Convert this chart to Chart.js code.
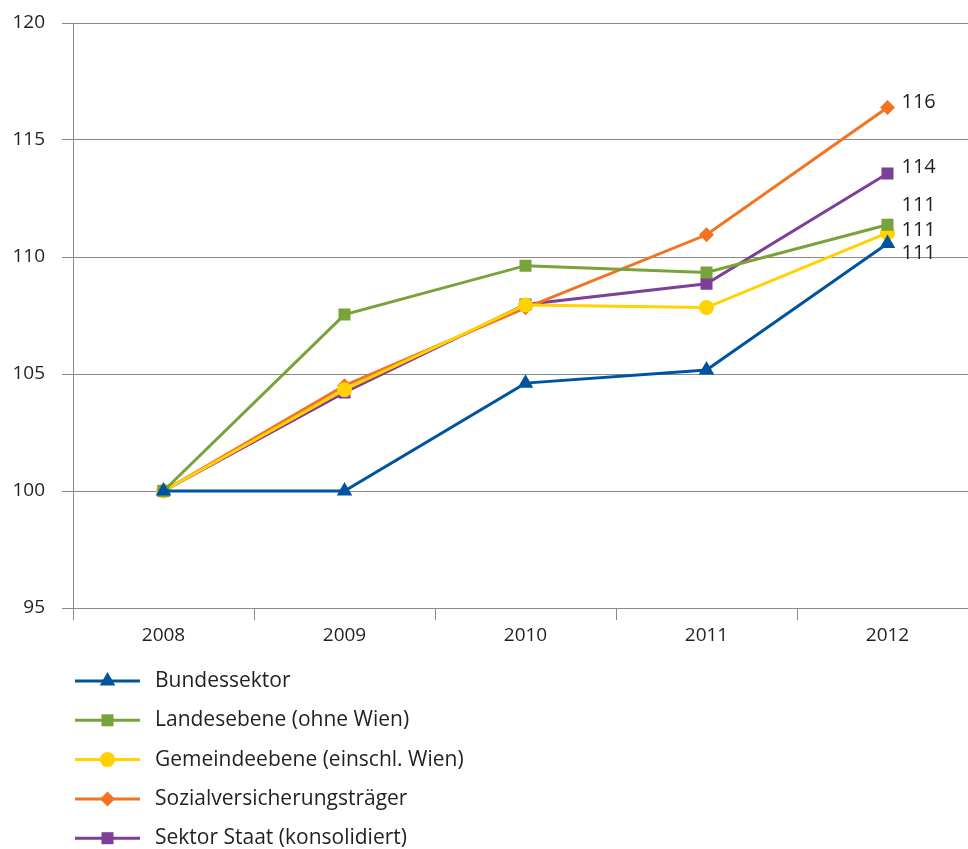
<!DOCTYPE html>
<html lang="de">
<head>
    <meta charset="UTF-8">
    <title>Sektoren 2008-2012</title>
    <script src="https://cdn.jsdelivr.net/npm/chart.js"></script>
    <style>
        html, body { margin: 0; padding: 0; background: #fff; overflow: hidden; }
        #myChart { display: block; }
    </style>
</head>
<body>
    <canvas id="myChart" width="978" height="849"></canvas>

<script>
// Daten (Index 2008 = 100)
const jahre = ['2008', '2009', '2010', '2011', '2012'];
const yTicks = [95, 100, 105, 110, 115, 120];

const bundessektor  = [100, 100, 104.61, 105.17, 110.58];
const landesebene   = [100, 107.54, 109.63, 109.34, 111.38];
const gemeindeebene = [100, 104.33, 107.95, 107.84, 111.03];
const sozialvers    = [100, 104.5, 107.83, 110.95, 116.39];
const sektorStaat   = [100, 104.21, 107.97, 108.86, 113.57];

const namen = ['Bundessektor', 'Landesebene (ohne Wien)', 'Gemeindeebene (einschl. Wien)',
               'Sozialversicherungsträger', 'Sektor Staat (konsolidiert)'];
const farben = ['#00539f', '#77a33a', '#ffd200', '#f47321', '#7d3f98'];
const symbole = ['triangle', 'rect', 'circle', 'rectRot', 'rect'];
const radien = [9, 8.5, 7.5, 7.5, 8.5];
// vertikale Verschiebung der Endwert-Beschriftung
const labelDy = [10, -19, -3, -5, -6];

const FONT = '"Open Sans", "DejaVu Sans", sans-serif';
const TEXT = '#231f20';
const GRID = '#8a8a8a';

const werte = [bundessektor, landesebene, gemeindeebene, sozialvers, sektorStaat];

const datasets = werte.map((w, i) => ({
    label: namen[i],
    data: w,
    borderColor: farben[i],
    backgroundColor: farben[i],
    borderWidth: 3,
    pointStyle: symbole[i],
    pointRadius: radien[i],
    pointBorderWidth: 0,
    tension: 0
}));

// Endwerte rechts neben dem letzten Punkt
const endLabels = {
    id: 'endLabels',
    afterDatasetsDraw(chart) {
        const ctx = chart.ctx;
        ctx.save();
        ctx.font = '20px ' + FONT;
        ctx.fillStyle = TEXT;
        ctx.textAlign = 'left';
        ctx.textBaseline = 'middle';
        chart.data.datasets.forEach((ds, i) => {
            const meta = chart.getDatasetMeta(i);
            const p = meta.data[meta.data.length - 1];
            const v = ds.data[ds.data.length - 1];
            ctx.fillText(Math.round(v).toString(), p.x + 14, p.y + labelDy[i]);
        });
        ctx.restore();
    }
};

// Legende untereinander, unten links
const legendeListe = {
    id: 'legendeListe',
    afterDraw(chart) {
        const ctx = chart.ctx;
        ctx.save();
        chart.data.datasets.forEach((ds, i) => {
            const y = 681 + i * 39.3;
            ctx.strokeStyle = ds.borderColor;
            ctx.lineWidth = 3;
            ctx.beginPath();
            ctx.moveTo(75, y);
            ctx.lineTo(140, y);
            ctx.stroke();
            ctx.fillStyle = ds.backgroundColor;
            Chart.helpers.drawPoint(ctx, {
                pointStyle: ds.pointStyle,
                radius: ds.pointRadius,
                rotation: 0,
                borderWidth: 0
            }, 107.5, y);
            ctx.fillStyle = TEXT;
            ctx.font = '21px ' + FONT;
            ctx.textAlign = 'left';
            ctx.textBaseline = 'middle';
            ctx.fillText(ds.label, 155, y);
        });
        ctx.restore();
    }
};

const ctx = document.getElementById('myChart').getContext('2d');
new Chart(ctx, {
    type: 'line',
    data: { labels: jahre, datasets: datasets },
    options: {
        responsive: false,
        animation: false,
        layout: { autoPadding: false, padding: { top: 23, right: 0, bottom: 0, left: 0 } },
        plugins: {
            legend: { display: false },
            tooltip: { enabled: false }
        },
        scales: {
            x: {
                offset: true,
                grid: {
                    offset: true,
                    drawOnChartArea: false,
                    drawTicks: true,
                    tickLength: 12,
                    color: GRID
                },
                border: { color: GRID },
                ticks: { color: TEXT, font: { family: FONT, size: 19 }, padding: 4 },
                afterFit(scale) {
                    scale.height = 241;
                    scale.paddingLeft = 0;
                    scale.paddingRight = 0;
                }
            },
            y: {
                min: 95,
                max: 120,
                afterBuildTicks(scale) { scale.ticks = yTicks.map(v => ({ value: v })); },
                grid: { color: GRID, tickLength: 11 },
                border: { color: GRID },
                ticks: { color: TEXT, font: { family: FONT, size: 19 }, padding: 17 },
                afterFit(scale) {
                    scale.width = 73;
                    scale.paddingTop = 0;
                    scale.paddingBottom = 0;
                }
            }
        }
    },
    plugins: [endLabels, legendeListe]
});
</script>
</body>
</html>
